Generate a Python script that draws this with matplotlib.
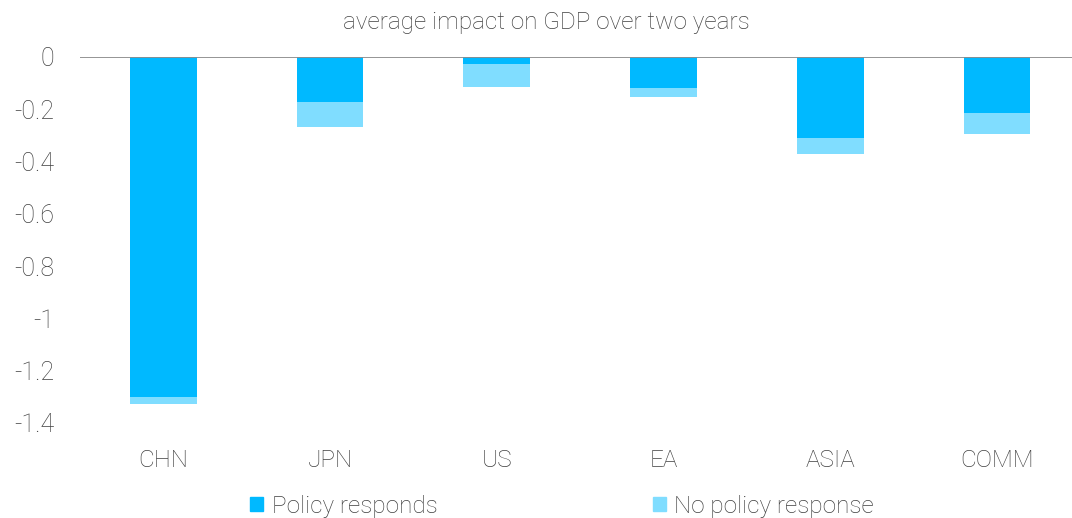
import matplotlib
matplotlib.use("Agg")
from matplotlib import pyplot as plt
from matplotlib.patches import Patch

# values
regions = ['CHN', 'JPN', 'US', 'EA', 'ASIA', 'COMM']
policy_responds = [-1.30, -0.172, -0.027, -0.119, -0.31, -0.214]
no_policy_response = [-1.327, -0.268, -0.115, -0.153, -0.371, -0.294]
yticks = [0, -0.2, -0.4, -0.6, -0.8, -1, -1.2, -1.4]
ytick_labels = ['0', '-0.2', '-0.4', '-0.6', '-0.8', '-1', '-1.2', '-1.4']

dark = '#00B9FF'
light = '#80DDFF'
txt = '#404040'

plt.rcParams['font.family'] = ['Roboto', 'DejaVu Sans']

fig = plt.figure(figsize=(10.72, 5.18), dpi=100)
ax = fig.add_axes([80 / 1072, 1 - 423 / 518, 1 - 80 / 1072, (423 - 57) / 518])

x = list(range(len(regions)))
ax.bar(x, no_policy_response, width=0.4, color=light, zorder=2)
ax.bar(x, policy_responds, width=0.4, color=dark, zorder=3)
ax.axhline(0, color='#8c8c8c', lw=1.3, zorder=4)

ax.set_xlim(-0.5, 5.45)
ax.set_ylim(-1.4, 0)
ax.set_yticks(yticks)
ax.set_yticklabels(ytick_labels, fontsize=18, color=txt, fontweight='light')
ax.set_xticks(x)
ax.set_xticklabels(regions, fontsize=17.5, color=txt, fontweight='light')
ax.tick_params(axis='both', length=0)
ax.tick_params(axis='y', pad=18.5)
ax.tick_params(axis='x', pad=19)
for s in ax.spines.values():
    s.set_visible(False)

fig.text(546 / 1072, 1 - 22 / 518, 'average impact on GDP over two years',
         ha='center', va='center', fontsize=17.5, color=txt, fontweight='light')

handles = [Patch(color=dark, label='Policy responds'),
           Patch(color=light, label='No policy response')]
fig.legend(handles=handles, loc='center', bbox_to_anchor=(562 / 1072, 1 - 506 / 518),
           ncol=2, frameon=False, handlelength=0.55, handleheight=0.55,
           handletextpad=0.35, columnspacing=8.85, labelcolor=txt,
           prop={'size': 17.5, 'weight': 'light'})

fig.savefig('out.png', dpi=100)
